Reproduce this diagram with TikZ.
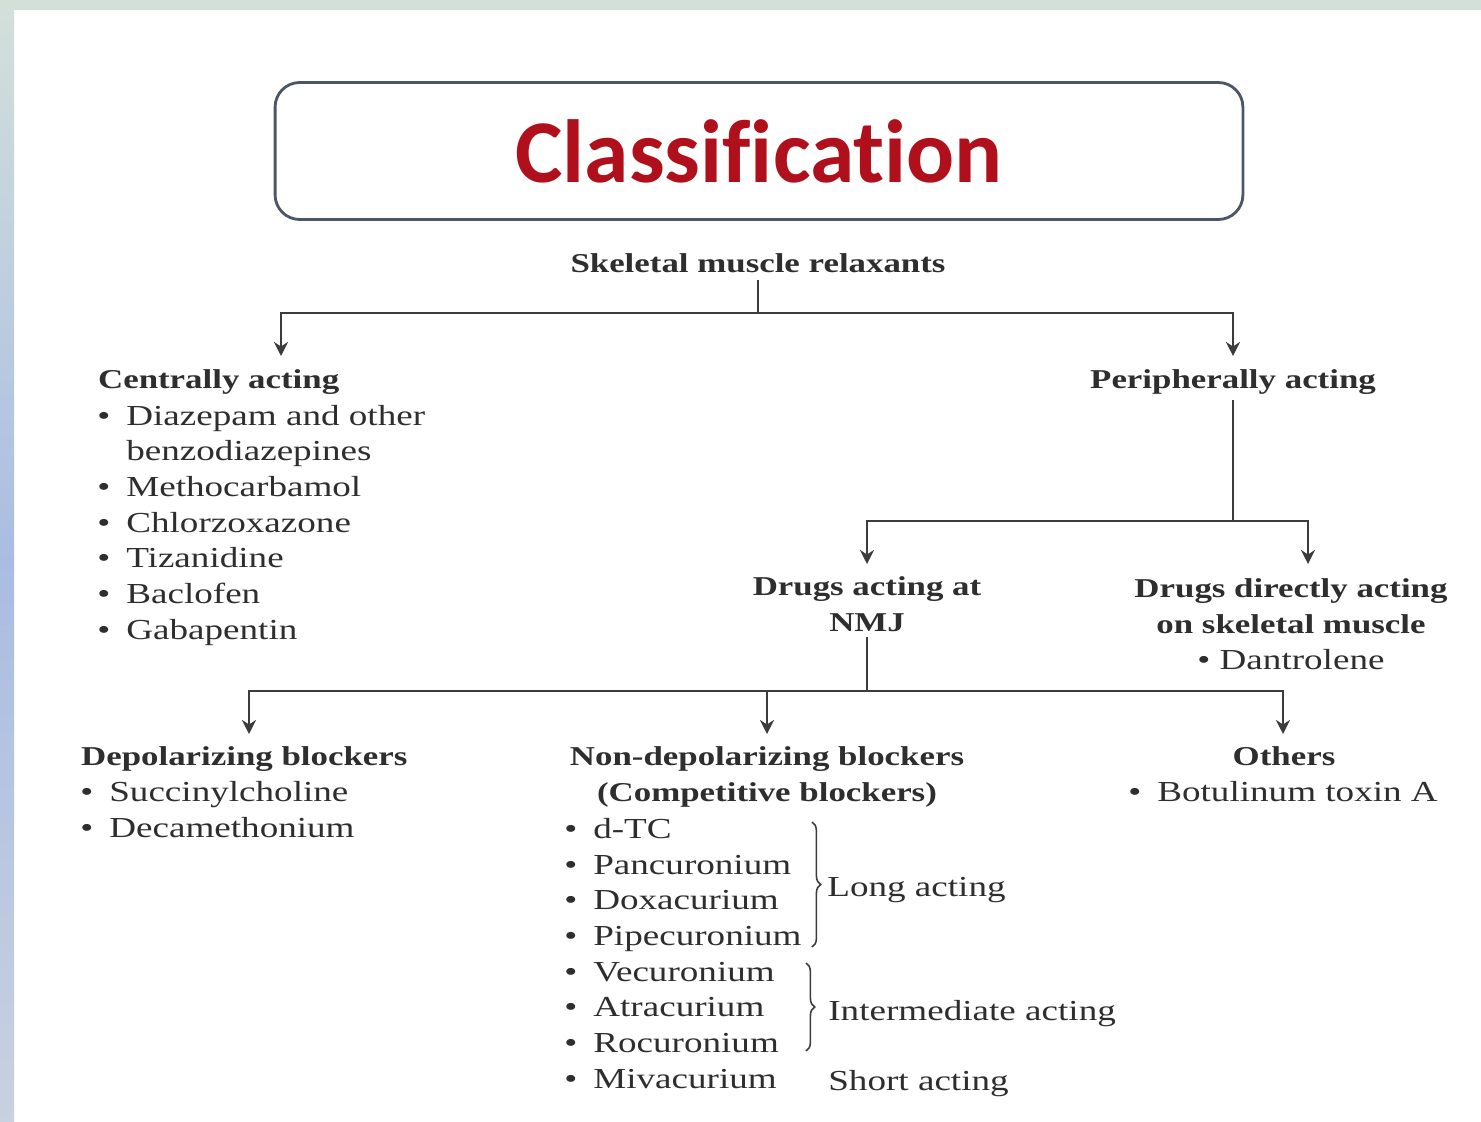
\documentclass[tikz,border=0pt]{standalone}
\usepackage{fontspec}
\setmainfont{Liberation Serif}[FakeStretch=1.28]
\newfontfamily\titlefont{Carlito}[Ligatures=NoCommon]
\usetikzlibrary{arrows.meta,decorations.pathreplacing}
\definecolor{txt}{HTML}{2E2E2E}
\definecolor{ln}{HTML}{3C3C3C}
\definecolor{ttl}{HTML}{B0101C}
\definecolor{frame}{HTML}{4D5666}
\definecolor{stripA}{HTML}{D3E0DA}
\definecolor{stripB}{HTML}{A9BDE2}
\definecolor{stripC}{HTML}{C8D1DE}
\tikzstyle{head} = [font=\bfseries\fontsize{15.5}{20.3}\selectfont, text=txt, inner sep=1pt]
\tikzstyle{item} = [font=\fontsize{16.5}{20.3}\selectfont, text=txt, inner sep=0pt, align=left]
\tikzstyle{link} = [line width=1.2pt, draw=ln]
\tikzstyle{arr} = [link, -{Stealth[length=8pt,width=8pt]}]
\tikzstyle{brc} = [line width=0.9pt, draw=ln, decorate, decoration={brace,amplitude=5pt}]
\newcommand{\bul}{\makebox[16.5pt][l]{\textbullet}}

\begin{document}
\begin{tikzpicture}[x=0.02cm, y=-0.02cm]
    \useasboundingbox (0,0) rectangle (1481,1122);
    % page
    \fill[white] (0,0) rectangle (1481,1122);
    \fill[stripA] (0,0) rectangle (1481,10);
    \shade[top color=stripA, bottom color=stripB] (0,0) rectangle (14,561);
    \shade[top color=stripB, bottom color=stripC] (0,561) rectangle (14,1122);

    % title
    \node[draw=frame, line width=1.6pt, rounded corners=14pt, minimum width=19.36cm,
          minimum height=2.74cm, text=ttl, font=\titlefont\bfseries\fontsize{51}{51}\selectfont]
          (title) at (759,151) {Classification};

    % top level
    \node[head, anchor=base] (smr) at (758,272) {Skeletal muscle relaxants};
    \coordinate (j1) at (758,313);
    \coordinate (a1) at (281,356);
    \coordinate (a2) at (1233,356);
    \draw[link, shorten <=3pt] (smr) -- (j1);
    \draw[arr] (j1) -| (a1);
    \draw[arr] (j1) -| (a2);

    % centrally acting (multi-line nodes sit on their last baseline)
    \node[head, anchor=base west] (cen) at (96,388) {Centrally acting};
    \node[item, anchor=base west] (cenlist) at (97,639) {\bul Diazepam and other\\
        \makebox[16.5pt]{}benzodiazepines\\ \bul Methocarbamol\\ \bul Chlorzoxazone\\
        \bul Tizanidine\\ \bul Baclofen\\ \bul Gabapentin};

    % peripherally acting
    \node[head, anchor=base] (per) at (1233,388) {Peripherally acting};
    \coordinate (j2) at (1233,521);
    \coordinate (a3) at (867,564);
    \coordinate (a4) at (1308,564);
    \draw[link, shorten <=2pt] (per) -- (j2);
    \draw[arr] (j2) -| (a3);
    \draw[arr] (j2) -| (a4);

    \node[head, anchor=base, align=center] (nmj) at (867,631) {Drugs acting at\\NMJ};
    \node[head, anchor=base, align=center] (dir) at (1291,669) {Drugs directly acting\\
        on skeletal muscle\\ {\mdseries\fontsize{16.5}{20.3}\selectfont\textbullet\ Dantrolene}};

    % NMJ branches
    \coordinate (j3) at (867,691);
    \coordinate (a5) at (249,734);
    \coordinate (a6) at (767,734);
    \coordinate (a7) at (1283,734);
    \draw[link, shorten <=2pt] (nmj) -- (j3);
    \draw[arr] (j3) -| (a5);
    \draw[arr] (j3) -| (a6);
    \draw[arr] (j3) -| (a7);

    % depolarizing
    \node[head, anchor=base west] (dep) at (79,765) {Depolarizing blockers};
    \node[item, anchor=base west] (deplist) at (80,837) {\bul Succinylcholine\\ \bul Decamethonium};

    % non-depolarizing
    \node[head, anchor=base, align=center] (ndep) at (767,801) {Non-depolarizing blockers\\
        (Competitive blockers)};
    \node[item, anchor=base west] (ndeplist) at (564,1088) {\bul d-TC\\ \bul Pancuronium\\
        \bul Doxacurium\\ \bul Pipecuronium\\ \bul Vecuronium\\ \bul Atracurium\\
        \bul Rocuronium\\ \bul Mivacurium};
    \coordinate (b1) at (812,822);
    \coordinate (b2) at (812,947);
    \coordinate (b3) at (806,963);
    \coordinate (b4) at (806,1051);
    \draw[brc] (b1) -- (b2);
    \draw[brc] (b3) -- (b4);
    \node[item, anchor=base west] (long) at (827,896) {Long acting};
    \node[item, anchor=base west] (inter) at (828,1020) {Intermediate acting};
    \node[item, anchor=base west] (short) at (828,1090) {Short acting};

    % others
    \node[head, anchor=base] (oth) at (1284,765) {Others};
    \node[item, anchor=base west] (othlist) at (1128,801) {\bul Botulinum toxin A};
\end{tikzpicture}
\end{document}
